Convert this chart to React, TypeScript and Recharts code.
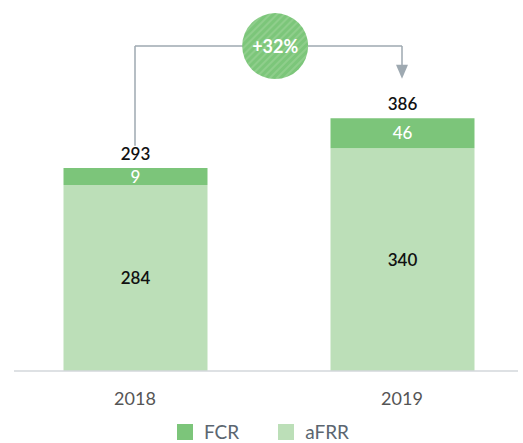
import { Bar, BarChart, LabelList, Legend, ReferenceLine, XAxis, YAxis } from "recharts";

const years = ["2018", "2019"];
const afrr = [284, 340];
const fcr = [9, 46];
const growth = "+32%";

// annotation levels (value units)
const connectorStart = 344;
const connectorTop = 496;
const arrowTip = 446;

const FONT = "Lato, 'Open Sans', sans-serif";
const FCR_COLOR = "#7cc57a";
const AFRR_COLOR = "#bcdfb8";
const LINE_COLOR = "#9ea9b1";

const data = years.map((year, i) => ({
  year,
  aFRR: afrr[i],
  FCR: fcr[i],
  total: afrr[i] + fcr[i],
}));

const legendItems = [
  { name: "FCR", color: FCR_COLOR },
  { name: "aFRR", color: AFRR_COLOR },
];

function LegendContent() {
  return (
    <div
      style={{
        display: "flex",
        justifyContent: "center",
        alignItems: "center",
        height: 22,
        fontFamily: FONT,
        transform: "translateX(-3px)",
      }}
    >
      {legendItems.map((it, i) => (
        <div key={it.name} style={{ display: "flex", alignItems: "center", marginLeft: i ? 39 : 0 }}>
          <span style={{ width: 16, height: 16, background: it.color, display: "inline-block" }} />
          <span style={{ marginLeft: 11, fontSize: 19, color: "#5b6670", lineHeight: "22px" }}>{it.name}</span>
        </div>
      ))}
    </div>
  );
}

function GrowthBadge(props: any) {
  const { x1, y1, x2, y2 } = props;
  const cx = x1 + (x2 - x1) * 0.525;
  return (
    <g>
      <defs>
        <pattern id="hatch" patternUnits="userSpaceOnUse" width={5} height={5} patternTransform="rotate(45)">
          <rect width={5} height={5} fill="#7cc67a" />
          <line x1={1} y1={0} x2={1} y2={5} stroke="#97d293" strokeWidth={1.4} />
        </pattern>
      </defs>
      <line x1={x1} y1={y1} x2={x2} y2={y2} stroke={LINE_COLOR} strokeWidth={1.5} />
      <circle cx={cx} cy={y1} r={33} fill="url(#hatch)" />
      <text
        x={cx}
        y={y1}
        textAnchor="middle"
        dominantBaseline="central"
        fill="#fff"
        fontFamily={FONT}
        fontWeight={700}
        fontSize={18}
      >
        {growth}
      </text>
    </g>
  );
}

function ArrowDown(props: any) {
  const { x1, y1, x2, y2 } = props;
  return (
    <g>
      <line x1={x1} y1={y1} x2={x2} y2={y2 - 12} stroke={LINE_COLOR} strokeWidth={1.5} />
      <path d={`M${x2 - 6},${y2 - 14} L${x2 + 6},${y2 - 14} L${x2},${y2} Z`} fill={LINE_COLOR} />
    </g>
  );
}

export default function App() {
  return (
    <div style={{ position: "absolute", left: 0, top: 0 }}>
      <BarChart width={523} height={443} data={data} margin={{ top: 109, right: 5, bottom: 0, left: 14 }} barSize={144}>
        <XAxis
          dataKey="year"
          tickLine={false}
          axisLine={{ stroke: "#d3d7db", strokeWidth: 1.5 }}
          tick={{ fill: "#555", fontSize: 18, fontFamily: FONT }}
          tickMargin={15}
          height={50}
          padding={{ left: -12.5, right: -17.5 }}
        />
        <YAxis hide domain={[0, 400]} />
        <Legend content={<LegendContent />} verticalAlign="bottom" />
        <Bar dataKey="aFRR" stackId="a" fill={AFRR_COLOR} isAnimationActive={false}>
          <LabelList dataKey="aFRR" position="center" fill="#111" fontSize={17} fontFamily={FONT} fontWeight={600} />
        </Bar>
        <Bar dataKey="FCR" stackId="a" fill={FCR_COLOR} minPointSize={17} isAnimationActive={false}>
          <LabelList dataKey="FCR" position="center" fill="#fff" fontSize={17} fontFamily={FONT} fontWeight={500} />
          <LabelList dataKey="total" position="top" offset={8} fill="#111" fontSize={17} fontFamily={FONT} fontWeight={600} />
        </Bar>
        <ReferenceLine
          segment={[{ x: "2018", y: connectorStart }, { x: "2018", y: connectorTop }]}
          stroke={LINE_COLOR}
          strokeWidth={1.5}
          ifOverflow="visible"
        />
        <ReferenceLine
          segment={[{ x: "2018", y: connectorTop }, { x: "2019", y: connectorTop }]}
          ifOverflow="visible"
          shape={GrowthBadge}
        />
        <ReferenceLine
          segment={[{ x: "2019", y: connectorTop }, { x: "2019", y: arrowTip }]}
          ifOverflow="visible"
          shape={ArrowDown}
        />
      </BarChart>
    </div>
  );
}
